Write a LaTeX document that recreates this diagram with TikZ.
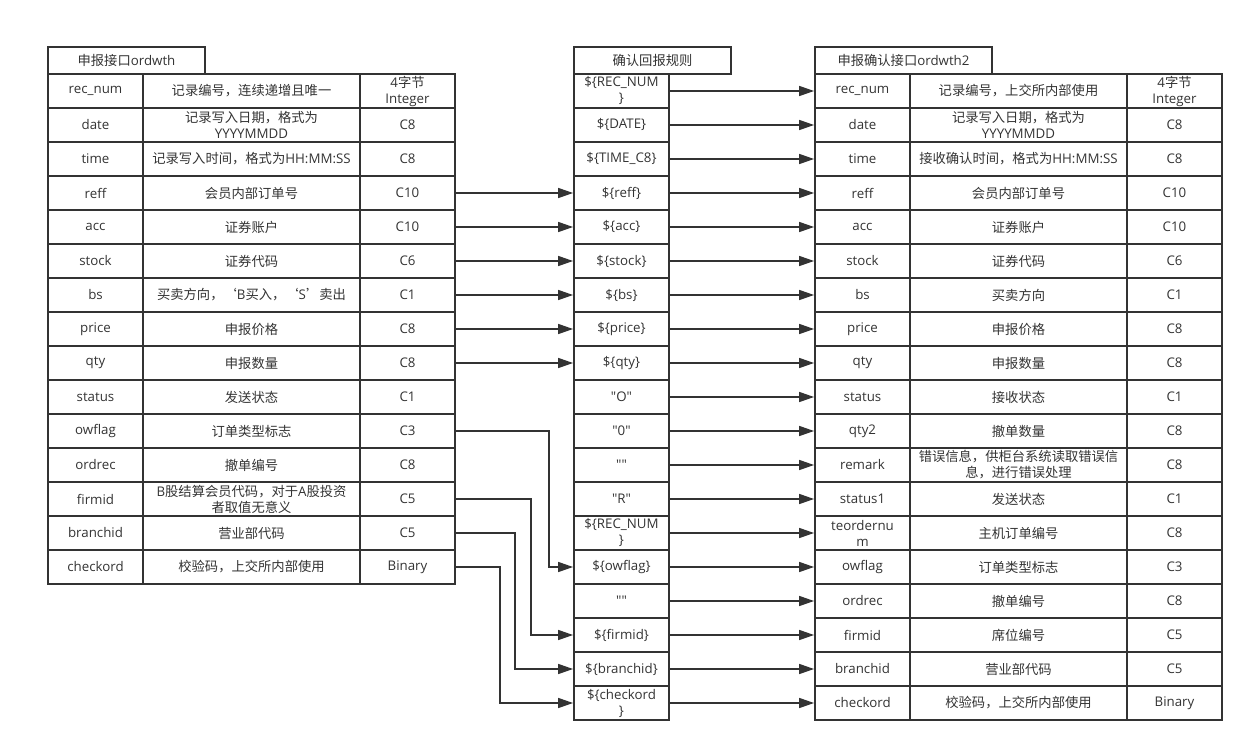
\documentclass[tikz,border=0pt]{standalone}
\usepackage{fontspec}
\defaultfontfeatures[\rmfamily,\sffamily]{}
\setmainfont{Open Sans}
\newfontfamily\cjkf{Noto Sans CJK SC}
\newfontfamily\latf{Open Sans}
\XeTeXinterchartokenstate=1
\newXeTeXintercharclass\cjkclass
\makeatletter
\count@="4E00
\loop \XeTeXcharclass\count@=\cjkclass \advance\count@ 1 \ifnum\count@<"A000 \repeat
\count@="3000
\loop \XeTeXcharclass\count@=\cjkclass \advance\count@ 1 \ifnum\count@<"3040 \repeat
\count@="FF00
\loop \XeTeXcharclass\count@=\cjkclass \advance\count@ 1 \ifnum\count@<"FFF0 \repeat
\XeTeXcharclass"2018=\cjkclass
\XeTeXcharclass"2019=\cjkclass
\makeatother
\XeTeXinterchartoks 0 \cjkclass = {\cjkf}
\XeTeXinterchartoks 4095 \cjkclass = {\cjkf}
\XeTeXinterchartoks \cjkclass 0 = {\latf}
\XeTeXinterchartoks \cjkclass 4095 = {\latf}
\usetikzlibrary{arrows.meta}
\definecolor{ink}{HTML}{333333}
\tikzset{
  cell/.style={draw=ink, line width=1.8pt, minimum height=34pt, inner sep=0pt, align=center, text=ink,
    font=\fontsize{13.3}{16}\selectfont},
  wa/.style={cell, minimum width=95pt},
  wb/.style={cell, minimum width=217pt},
  tab/.style={cell, minimum height=27pt},
  arr/.style={draw=ink, line width=1.5pt, -{Triangle[length=15pt,width=10pt]}},
}
\newcommand\lrow[4]{%
  \node[wa] (L#1a) at (95.5,{57+34*#1}) {#2};
  \node[wb] (L#1b) at (251.5,{57+34*#1}) {#3};
  \node[wa] (L#1c) at (407.5,{57+34*#1}) {#4};}
\newcommand\mrow[2]{%
  \node[wa] (M#1) at (621.5,{57+34*#1}) {#2};}
\newcommand\rrow[4]{%
  \node[wa] (R#1a) at (862.5,{57+34*#1}) {#2};
  \node[wb] (R#1b) at (1018.5,{57+34*#1}) {#3};
  \node[wa] (R#1c) at (1174.5,{57+34*#1}) {#4};}
\newcommand\dq{\char"22\relax}
\begin{document}
\begin{tikzpicture}[x=1pt,y=-1pt]
\useasboundingbox (0,0) rectangle (1254,752);
% headers
\node[tab, minimum width=157pt] (LH) at (126.5,60.5) {申报接口ordwth};
\node[tab, minimum width=157pt] (MH) at (652.5,60.5) {确认回报规则};
\node[tab, minimum width=177pt] (RH) at (903.5,60.5) {申报确认接口ordwth2};
% left table
\lrow{1}{rec\_num}{记录编号，连续递增且唯一}{4字节\\Integer}
\lrow{2}{date}{记录写入日期，格式为\\YYYYMMDD}{C8}
\lrow{3}{time}{记录写入时间，格式为HH:MM:SS}{C8}
\lrow{4}{reff}{会员内部订单号}{C10}
\lrow{5}{acc}{证券账户}{C10}
\lrow{6}{stock}{证券代码}{C6}
\lrow{7}{bs}{买卖方向，‘B买入，‘S’卖出}{C1}
\lrow{8}{price}{申报价格}{C8}
\lrow{9}{qty}{申报数量}{C8}
\lrow{10}{status}{发送状态}{C1}
\lrow{11}{owflag}{订单类型标志}{C3}
\lrow{12}{ordrec}{撤单编号}{C8}
\lrow{13}{firmid}{B股结算会员代码，对于A股投资\\者取值无意义}{C5}
\lrow{14}{branchid}{营业部代码}{C5}
\lrow{15}{checkord}{校验码，上交所内部使用}{Binary}
% middle table
\mrow{1}{\$\{REC\_NUM\\\}}
\mrow{2}{\$\{DATE\}}
\mrow{3}{\$\{TIME\_C8\}}
\mrow{4}{\$\{reff\}}
\mrow{5}{\$\{acc\}}
\mrow{6}{\$\{stock\}}
\mrow{7}{\$\{bs\}}
\mrow{8}{\$\{price\}}
\mrow{9}{\$\{qty\}}
\mrow{10}{\dq O\dq}
\mrow{11}{\dq 0\dq}
\mrow{12}{\dq\dq}
\mrow{13}{\dq R\dq}
\mrow{14}{\$\{REC\_NUM\\\}}
\mrow{15}{\$\{owflag\}}
\mrow{16}{\dq\dq}
\mrow{17}{\$\{firmid\}}
\mrow{18}{\$\{branchid\}}
\mrow{19}{\$\{checkord\\\}}
% right table
\rrow{1}{rec\_num}{记录编号，上交所内部使用}{4字节\\Integer}
\rrow{2}{date}{记录写入日期，格式为\\YYYYMMDD}{C8}
\rrow{3}{time}{接收确认时间，格式为HH:MM:SS}{C8}
\rrow{4}{reff}{会员内部订单号}{C10}
\rrow{5}{acc}{证券账户}{C10}
\rrow{6}{stock}{证券代码}{C6}
\rrow{7}{bs}{买卖方向}{C1}
\rrow{8}{price}{申报价格}{C8}
\rrow{9}{qty}{申报数量}{C8}
\rrow{10}{status}{接收状态}{C1}
\rrow{11}{qty2}{撤单数量}{C8}
\rrow{12}{remark}{错误信息，供柜台系统读取错误信\\息，进行错误处理}{C8}
\rrow{13}{status1}{发送状态}{C1}
\rrow{14}{teordernu\\m}{主机订单编号}{C8}
\rrow{15}{owflag}{订单类型标志}{C3}
\rrow{16}{ordrec}{撤单编号}{C8}
\rrow{17}{firmid}{席位编号}{C5}
\rrow{18}{branchid}{营业部代码}{C5}
\rrow{19}{checkord}{校验码，上交所内部使用}{Binary}
% arrows left -> middle
\foreach \i in {4,...,9} { \draw[arr] (L\i c.east) -- (M\i.west); }
\draw[arr] (L11c.east) -- ++(93,0) |- (M15.west);
\draw[arr] (L13c.east) -- ++(75,0) |- (M17.west);
\draw[arr] (L14c.east) -- ++(59,0) |- (M18.west);
\draw[arr] (L15c.east) -- ++(44,0) |- (M19.west);
% arrows middle -> right
\foreach \i in {1,...,19} { \draw[arr] (M\i.east) -- (R\i a.west); }
\end{tikzpicture}
\end{document}
